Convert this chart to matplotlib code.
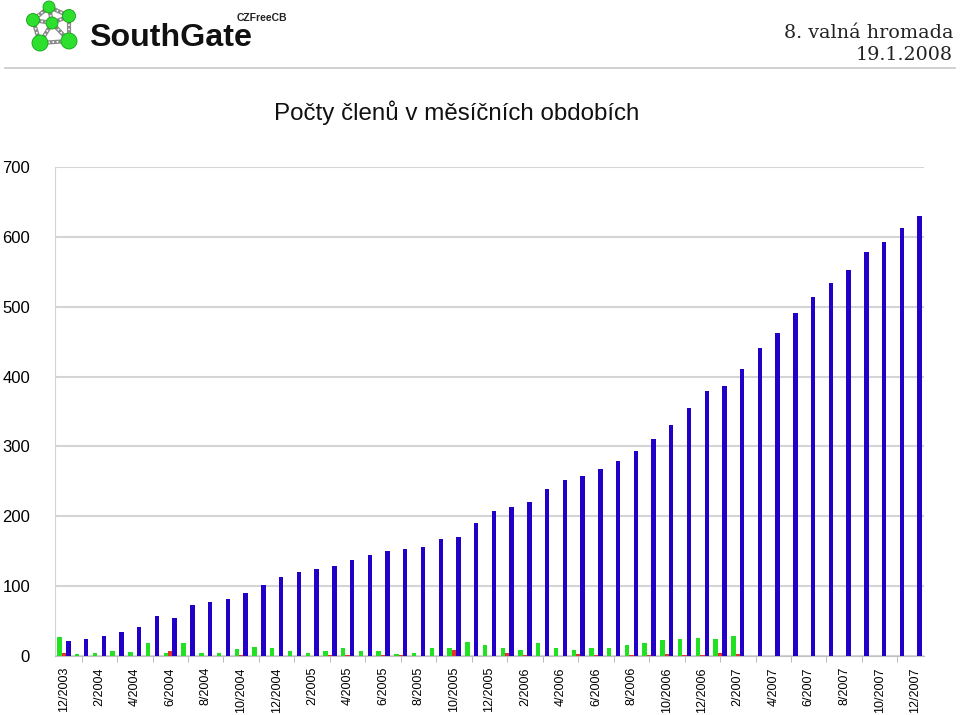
import numpy as np
import matplotlib
matplotlib.use("Agg")
import matplotlib.pyplot as plt
from matplotlib.patches import Circle
from matplotlib.lines import Line2D

# mesice 12/2003 .. 12/2007
mesice = []
for rok, m0, m1 in [(2003, 12, 12), (2004, 1, 12), (2005, 1, 12), (2006, 1, 12), (2007, 1, 12)]:
    for m in range(m0, m1 + 1):
        mesice.append(f"{m}/{rok}")

# noví členové (zelená)
novi = [27, 3, 4, 7, 6, 18, 4, 19, 4, 4, 10, 13, 12, 7, 4, 7,
        12, 7, 7, 3, 4, 11, 12, 20, 16, 12, 8, 19, 12, 9, 11, 11,
        16, 19, 23, 25, 26, 24, 28, 0, 0, 0, 0, 0, 0, 0, 0, 0, 0]
# odešlí členové (červená)
odesli = [5, 0, 0, 0, 0, 0, 7, 0, 0, 0, 1, 0, 0, 0, 0, 1,
          2, 0, 1, 1, 0, 0, 9, 0, 0, 4, 2, 0, 0, 3, 1, 0,
          1, 2, 3, 1, 1, 5, 3, 0, 0, 0, 0, 0, 0, 0, 0, 0, 0]
# celkový počet členů (modrá)
celkem = [22, 25, 29, 35, 41, 57, 55, 73, 77, 81, 90, 102, 113, 120, 124, 129,
          138, 145, 150, 153, 156, 168, 170, 190, 207, 214, 220, 239, 252, 258, 268, 279,
          294, 311, 331, 355, 380, 386, 411, 441, 462, 491, 514, 534, 552, 579, 593, 612, 630]

GREEN = "#22E022"
RED = "#E83030"
BLUE = "#2200C8"
GRID = "#D4D4D4"

fig = plt.figure(figsize=(9.6, 7.15), dpi=100)
W, H = 960, 715

def fx(px):
    return px / W

def fy(py):
    return 1 - py / H

# --- hlavička: logo (kuličky spojené provázky) ---
uzly = [(49, 7, 6), (33, 20, 6.5), (69, 16, 6.5), (52, 23, 6), (40, 43, 8), (69, 41, 8)]
hrany = [(0, 1), (0, 2), (0, 3), (1, 3), (2, 3), (1, 4), (2, 5), (3, 4), (3, 5), (4, 5)]
for a, b in hrany:
    xs = [fx(uzly[a][0]), fx(uzly[b][0])]
    ys = [fy(uzly[a][1]), fy(uzly[b][1])]
    fig.add_artist(Line2D(xs, ys, color="#8A8A8A", lw=3, transform=fig.transFigure, zorder=1))
    fig.add_artist(Line2D(xs, ys, color="white", lw=1.2, ls=(0, (1, 1.5)),
                          transform=fig.transFigure, zorder=1.5))
for x, y, r in uzly:
    fig.add_artist(Circle((x, H - y), r, transform=None, facecolor="#2EE02E",
                          edgecolor="#14A014", lw=0.6, zorder=2))

fig.text(fx(89), fy(38), "SouthGate", fontsize=23.2, fontweight="bold",
         family="Liberation Sans", va="center", ha="left", color="#111111")
fig.text(fx(237), fy(18), "CZFreeCB", fontsize=7.5, fontweight="bold",
         family="Liberation Sans", va="center", ha="left", color="#222222")
fig.text(fx(953), fy(33), "8. valná hromada", fontsize=13.8, family="DejaVu Serif",
         va="center", ha="right", color="#222222")
fig.text(fx(953), fy(55), "19.1.2008", fontsize=13.8, family="DejaVu Serif",
         va="center", ha="right", color="#222222")
fig.add_artist(Line2D([fx(5), fx(955)], [fy(68), fy(68)], color="#C8C8C8", lw=1.2,
                      transform=fig.transFigure))

fig.text(fx(457), fy(113), "Počty členů v měsíčních obdobích", fontsize=17.4,
         family="Liberation Sans", ha="center", va="center", color="#111111")

# --- graf ---
ax = fig.add_axes([fx(55), fy(656), (924 - 55) / W, (656 - 167) / H])
x = np.arange(len(mesice))
w = 0.25
ax.bar(x - w, novi, width=w, color=GREEN, zorder=3)
ax.bar(x, odesli, width=w, color=RED, zorder=3)
ax.bar(x + w, celkem, width=w, color=BLUE, zorder=3)

ax.set_xlim(-0.5, len(mesice) - 0.5)
ax.set_ylim(0, 700)
ax.set_yticks(range(0, 701, 100))
ax.yaxis.grid(True, color=GRID, lw=1.5, zorder=0)
ax.set_axisbelow(True)
for s in ["top", "right"]:
    ax.spines[s].set_visible(False)
ax.spines["left"].set_color(GRID)
ax.spines["bottom"].set_color("#C0C0C0")
ax.tick_params(axis="y", length=0, pad=18, labelsize=12)
for t in ax.get_yticklabels():
    t.set_family("Liberation Sans")

ax.set_xticks(x[::2])
ax.set_xticklabels(mesice[::2], rotation=90, fontsize=9, family="Liberation Sans")
ax.tick_params(axis="x", which="major", length=0, pad=8)
ax.set_xticks(x[1::2], minor=True)
ax.tick_params(axis="x", which="minor", length=4, color="#B0B0B0")

fig.savefig("out.png", dpi=100)
